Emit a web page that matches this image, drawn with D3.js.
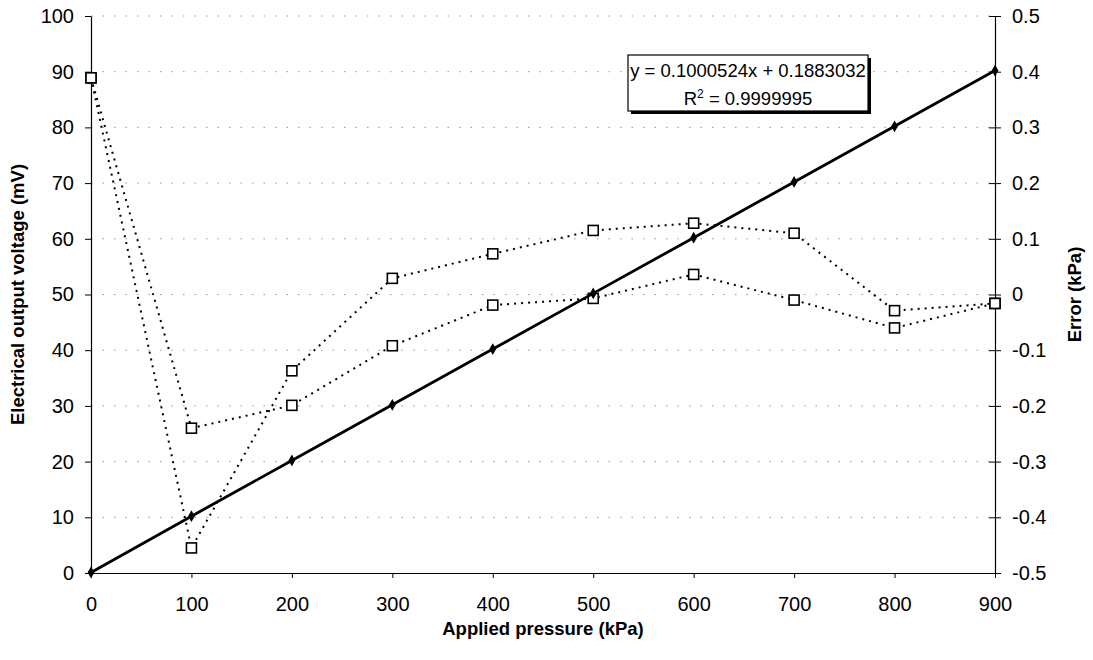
<!DOCTYPE html>
<html lang="en">
<head>
<meta charset="UTF-8">
<title>Pressure sensor calibration</title>
<script src="https://d3js.org/d3.v7.min.js"></script>
<style>
  body { margin: 0; background: #fff; }
  text { font-family: 'Liberation Sans', Arial, sans-serif; fill: #000; }
  .tick text { font-size: 20px; }
  .domain, .tick line { stroke: #000; }
  .title { font-size: 18.5px; font-weight: bold; }
</style>
</head>
<body>
<svg width="1093" height="660"></svg>
<script>
// data
const pressure = [0, 100, 200, 300, 400, 500, 600, 700, 800, 900];
const voltage = [0.1, 10.2, 20.2, 30.2, 40.2, 50.2, 60.2, 70.2, 80.2, 90.2];
const errorRun1 = [0.389, -0.455, -0.137, 0.029, 0.073, 0.115, 0.128, 0.110, -0.029, -0.016];
const errorRun2 = [0.389, -0.240, -0.199, -0.092, -0.019, -0.007, 0.036, -0.010, -0.060, -0.016];
const leftTicks = [0, 10, 20, 30, 40, 50, 60, 70, 80, 90, 100];
const rightTicks = [-0.5, -0.4, -0.3, -0.2, -0.1, 0, 0.1, 0.2, 0.3, 0.4, 0.5];
const fitText = "y = 0.1000524x + 0.1883032";
const r2Value = "0.9999995";

const svg = d3.select("svg");
const plotLeft = 91, plotRight = 995, plotTop = 16, plotBottom = 573;

const x = d3.scaleLinear().domain([0, 900]).range([plotLeft, plotRight]);
const y = d3.scaleLinear().domain([0, 100]).range([plotBottom, plotTop]);
const y2 = d3.scaleLinear().domain([-0.5, 0.5]).range([plotBottom, plotTop]);

// gridlines
svg.append("g")
  .selectAll("line")
  .data(leftTicks.filter(d => d > 0))
  .join("line")
  .attr("x1", plotLeft).attr("x2", plotRight)
  .attr("y1", d => y(d)).attr("y2", d => y(d))
  .attr("stroke", "#999")
  .attr("stroke-width", 1)
  .attr("stroke-dasharray", "1.5,10");

// axes
svg.append("g")
  .attr("transform", `translate(0,${plotBottom})`)
  .call(d3.axisBottom(x).tickValues(pressure).tickSize(5).tickPadding(33).tickSizeOuter(0))
  .call(g => g.selectAll(".tick text").attr("dy", "0"));

svg.append("g")
  .attr("transform", `translate(${plotLeft},0)`)
  .call(d3.axisLeft(y).tickValues(leftTicks).tickSize(6).tickPadding(11).tickSizeOuter(0));

const rAxis = svg.append("g")
  .attr("transform", `translate(${plotRight},0)`)
  .call(d3.axisRight(y2).tickValues(rightTicks).tickSize(6).tickPadding(11).tickSizeOuter(0)
    .tickFormat(d => d === 0 ? "0" : d3.format(".1f")(d).replace("\u2212", "-")));
rAxis.selectAll(".tick line").attr("x1", -6);

svg.selectAll(".domain").attr("stroke-width", 1.2);

// error series (right axis)
const errLine = d3.line().x((d, i) => x(pressure[i])).y(d => y2(d));
[errorRun1, errorRun2].forEach(series => {
  svg.append("path")
    .datum(series)
    .attr("fill", "none")
    .attr("stroke", "#000")
    .attr("stroke-width", 2)
    .attr("stroke-dasharray", "2,5")
    .attr("d", errLine);
});
[errorRun1, errorRun2].forEach(series => {
  svg.append("g")
    .selectAll("rect")
    .data(series)
    .join("rect")
    .attr("x", (d, i) => x(pressure[i]) - 5)
    .attr("y", d => y2(d) - 5)
    .attr("width", 10).attr("height", 10)
    .attr("fill", "#fff")
    .attr("stroke", "#000")
    .attr("stroke-width", 1.6);
});

// voltage series (left axis)
const vLine = d3.line().x((d, i) => x(pressure[i])).y(d => y(d));
svg.append("path")
  .datum(voltage)
  .attr("fill", "none")
  .attr("stroke", "#000")
  .attr("stroke-width", 2.8)
  .attr("d", vLine);
svg.append("g")
  .selectAll("path")
  .data(voltage)
  .join("path")
  .attr("transform", (d, i) => `translate(${x(pressure[i])},${y(d)})`)
  .attr("d", d3.symbol(d3.symbolDiamond, 40))
  .attr("fill", "#000");

// regression label
const bx = 628, by = 55, bw = 240, bh = 56;
svg.append("rect").attr("x", bx + 3).attr("y", by + 3).attr("width", bw).attr("height", bh).attr("fill", "#000");
svg.append("rect").attr("x", bx).attr("y", by).attr("width", bw).attr("height", bh)
  .attr("fill", "#fff").attr("stroke", "#000").attr("stroke-width", 1.2);
svg.append("text").attr("x", bx + bw / 2).attr("y", by + 22)
  .attr("text-anchor", "middle").style("font-size", "18.5px").text(fitText);
const r2 = svg.append("text").attr("x", bx + bw / 2).attr("y", by + 50)
  .attr("text-anchor", "middle").style("font-size", "18.5px");
r2.append("tspan").text("R");
r2.append("tspan").attr("dy", -7).style("font-size", "12px").text("2");
r2.append("tspan").attr("dy", 7).text(" = " + r2Value);

// axis titles
svg.append("text").attr("class", "title")
  .attr("x", (plotLeft + plotRight) / 2).attr("y", 635)
  .attr("text-anchor", "middle").text("Applied pressure (kPa)");
svg.append("text").attr("class", "title")
  .attr("transform", `translate(24,${(plotTop + plotBottom) / 2}) rotate(-90)`)
  .attr("text-anchor", "middle").text("Electrical output voltage (mV)");
svg.append("text").attr("class", "title")
  .attr("transform", `translate(1081,${(plotTop + plotBottom) / 2}) rotate(-90)`)
  .attr("text-anchor", "middle").text("Error (kPa)");
</script>
</body>
</html>
